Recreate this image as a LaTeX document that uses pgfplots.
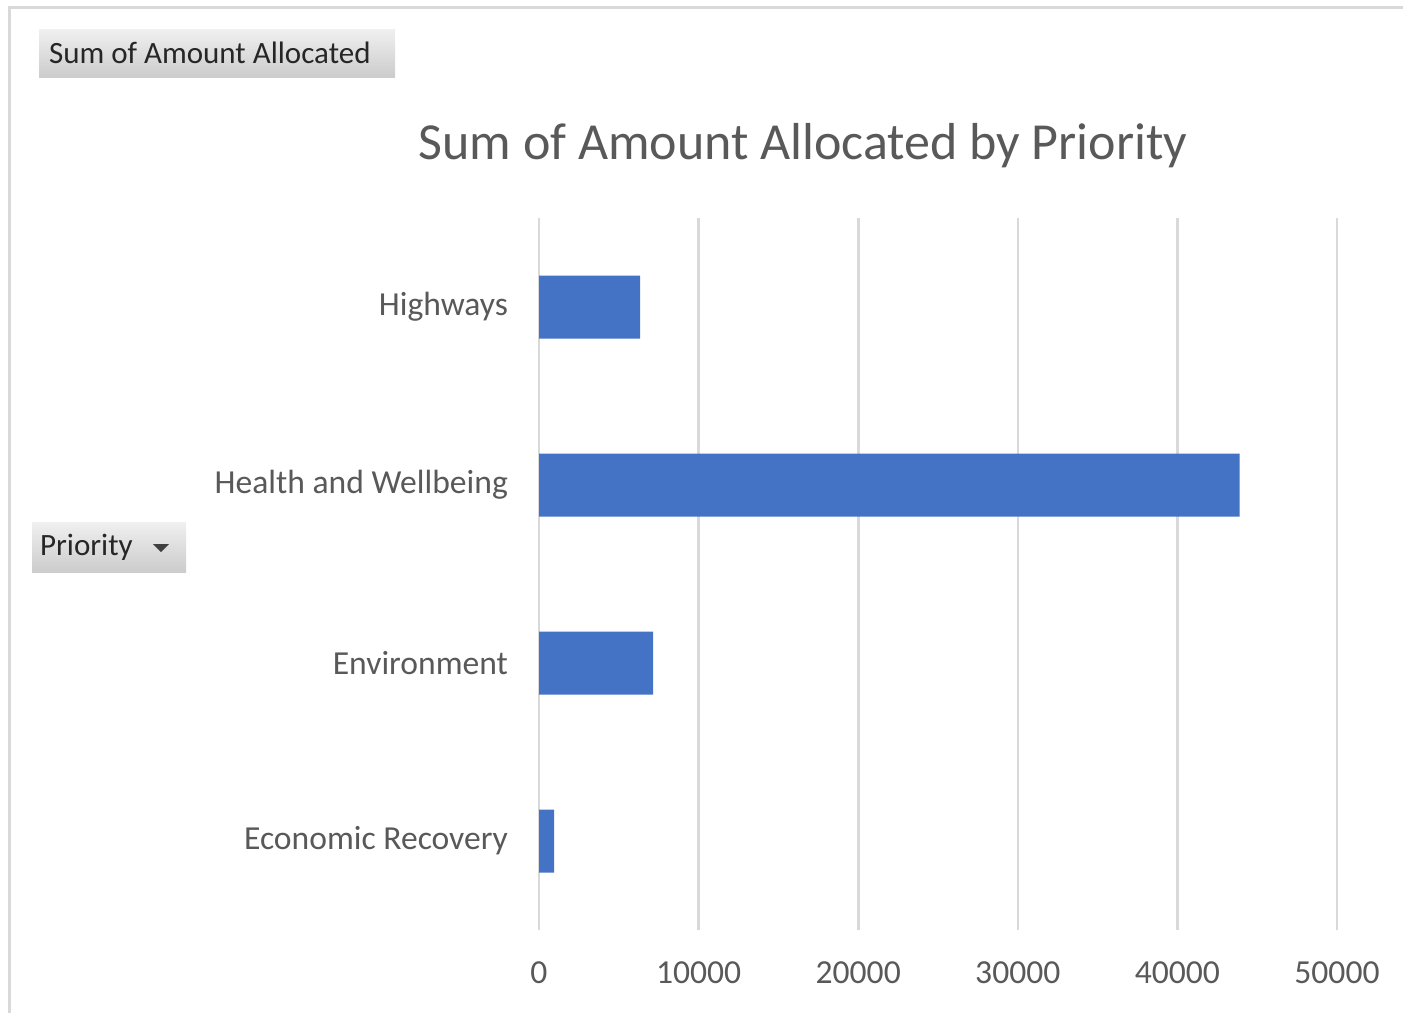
\documentclass[border=0pt]{standalone}
\usepackage{pgfplots}
\pgfplotsset{compat=1.18}
\usepackage{fontspec}
\setmainfont{Carlito}
\definecolor{barblue}{HTML}{4472C4}
\definecolor{txtgray}{HTML}{595959}
\definecolor{gridgray}{HTML}{D9D9D9}
\begin{document}
\begin{tikzpicture}
\begin{scope}[x=0.5pt,y=-0.5pt]
\useasboundingbox (0,0) rectangle (1403,1013);
% outer frame
\draw[gridgray,line width=1.5pt] (9,1013) -- (9,7) -- (1403,7);
% pivot field buttons
\shade[top color=gray!12,bottom color=gray!40] (39,29) rectangle (395,77);
\node[anchor=west,font=\fontsize{15.5}{18}\selectfont,text=black!85] at (42,53) {Sum of Amount Allocated};
\shade[top color=gray!12,bottom color=gray!40] (32,522) rectangle (186,572);
\node[anchor=west,font=\fontsize{15.5}{18}\selectfont,text=black!85] at (33,547) {Priority};
\fill[black!75] (153,544) -- (169,544) -- (161,552) -- cycle;
% title
\node[font=\fontsize{26}{30}\selectfont,text=txtgray] at (803,146) {Sum of Amount Allocated by Priority};
\end{scope}
\begin{axis}[
  at={(269.5pt,-465pt)}, anchor=south west,
  scale only axis, width=399pt, height=356pt,
  xbar, bar width=31.5pt,
  xmin=0, xmax=50000,
  ymin=-0.5, ymax=3.5,
  xtick={0,10000,20000,30000,40000,50000},
  scaled x ticks=false,
  /pgf/number format/1000 sep={},
  /pgf/number format/assume math mode=true,
  ytick={0,1,2,3},
  yticklabels={Economic Recovery,Environment,Health and Wellbeing,Highways},
  xmajorgrids,
  major grid style={gridgray,line width=1.3pt},
  axis line style={draw=none},
  major tick length=0pt,
  tick label style={font=\fontsize{16.8}{19}\selectfont,text=txtgray},
  xticklabel style={yshift=-12.5pt},
  yticklabel style={xshift=-12pt},
]
\addplot[fill=barblue,draw=none] coordinates {(940,0) (7150,1) (43900,2) (6330,3)};
\end{axis}
\end{tikzpicture}
\end{document}
